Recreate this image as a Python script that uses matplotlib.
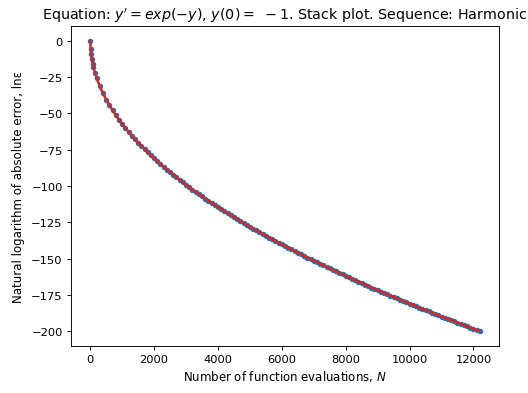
import matplotlib
matplotlib.use('Agg')
import matplotlib.pyplot as plt

# function evaluations N and ln(error)
evals = [0, 10, 25, 50, 75, 100, 150, 200, 300, 400, 500, 600, 700, 800, 900,
         1000, 1100, 1200, 1300, 1400, 1500, 1600, 1700, 1800, 1900,
         2000, 2100, 2200, 2300, 2400, 2500, 2600, 2700, 2800, 2900,
         3000, 3100, 3200, 3300, 3400, 3500, 3600, 3700, 3800, 3900,
         4000, 4100, 4200, 4300, 4400, 4500, 4600, 4700, 4800, 4900,
         5000, 5100, 5200, 5300, 5400, 5500, 5600, 5700, 5800, 5900,
         6000, 6100, 6200, 6300, 6400, 6500, 6600, 6700, 6800, 6900,
         7000, 7100, 7200, 7300, 7400, 7500, 7600, 7700, 7800, 7900,
         8000, 8100, 8200, 8300, 8400, 8500, 8600, 8700, 8800, 8900,
         9000, 9100, 9200, 9300, 9400, 9500, 9600, 9700, 9800, 9900,
         10000, 10100, 10200, 10300, 10400, 10500, 10600, 10700, 10800, 10900,
         11000, 11100, 11200, 11300, 11400, 11500, 11600, 11700, 11800, 11900,
         12000, 12100, 12200]
log_err = [0.0, -5.7, -9.0, -12.7, -15.6, -18.1, -22.1, -25.6, -31.4, -36.2, -40.4, -44.4, -47.9, -51.2, -54.3,
           -57.2, -60.0, -62.7, -65.3, -67.8, -70.1, -72.4, -74.6, -76.8, -78.9,
           -81.0, -82.9, -84.9, -86.8, -88.7, -90.5, -92.3, -94.1, -95.8, -97.5,
           -99.2, -100.8, -102.4, -104.0, -105.6, -107.1, -108.7, -110.1, -111.7, -113.0,
           -114.5, -115.9, -117.4, -118.7, -120.1, -121.4, -122.8, -124.1, -125.4, -126.7,
           -128.0, -129.3, -130.6, -131.8, -133.1, -134.2, -135.5, -136.7, -137.9, -139.0,
           -140.2, -141.4, -142.5, -143.7, -144.8, -145.9, -147.1, -148.2, -149.3, -150.4,
           -151.5, -152.5, -153.6, -154.6, -155.7, -156.8, -157.8, -158.8, -159.9, -160.9,
           -162.0, -162.9, -164.0, -164.9, -166.0, -166.9, -167.9, -168.8, -169.9, -170.8,
           -171.8, -172.7, -173.7, -174.5, -175.5, -176.4, -177.4, -178.3, -179.2, -180.1,
           -181.1, -181.9, -182.9, -183.7, -184.7, -185.5, -186.4, -187.2, -188.2, -189.0,
           -189.9, -190.7, -191.6, -192.4, -193.3, -194.1, -195.0, -195.8, -196.7, -197.5,
           -198.4, -199.1, -200.0]

fig = plt.figure(figsize=(6.4, 4.775), dpi=82.5)
ax = fig.add_axes([0.134, 0.12, 0.8117, 0.8107])

ax.scatter(evals, log_err, s=14, color='tab:blue')		#points
ax.plot(evals, log_err, color='tab:red', linewidth=2.2)	#line over them

ax.set_title(r"Equation: $y' = exp(-y)$, $y(0) =\ -1$. Stack plot. Sequence: Harmonic", fontsize=12.4)
ax.set_xlabel(r"Number of function evaluations, $N$", fontsize=10.3)
ax.set_ylabel("Natural logarithm of absolute error, lnε", fontsize=10.3, labelpad=5)

fig.savefig('out.png', dpi=82.5)
